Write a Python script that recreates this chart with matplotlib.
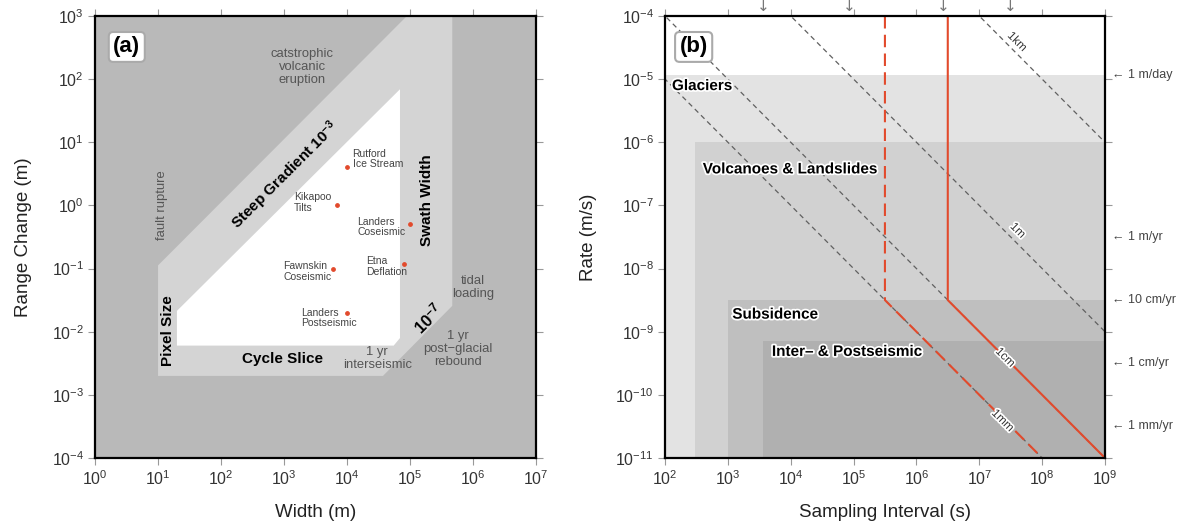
import numpy as np
import matplotlib
matplotlib.use("Agg")
import matplotlib.pyplot as plt
import matplotlib.patheffects as pe
from matplotlib.transforms import blended_transform_factory

plt.rcParams['font.family'] = ['Liberation Sans', 'DejaVu Sans']
plt.rcParams['mathtext.fontset'] = 'custom'
plt.rcParams['mathtext.rm'] = 'Liberation Sans'
plt.rcParams['mathtext.it'] = 'Liberation Sans:italic'
plt.rcParams['mathtext.bf'] = 'Liberation Sans:bold'

# ---------------- panel (a) data (log10 of width / range change) -------------
band_logx = [1.0, 1.0, 4.95, 5.67, 5.67, 4.57]
band_logy = [-2.70, -0.95, 3.0, 3.0, -1.59, -2.70]
white_logx = [1.30, 1.30, 4.84, 4.84, 4.74]
white_logy = [-2.22, -1.67, 1.84, -2.10, -2.22]

event_names = ["Rutford\nIce Stream", "Kikapoo\nTilts", "Landers\nCoseismic",
               "Fawnskin\nCoseismic", "Etna\nDeflation", "Landers\nPostseismic"]
event_width = [1.0e4, 7.0e3, 1.0e5, 6.0e3, 8.0e4, 1.0e4]
event_range = [4.0, 1.0, 0.5, 0.10, 0.12, 0.02]

# ---------------- panel (b) data --------------------------------------------
class_names = ["Glaciers", "Volcanoes & Landslides", "Subsidence", "Inter\u2013 & Postseismic"]
class_tmin = [1e2, 3e2, 1e3, 3.6e3]
class_rate_top = [1.157e-5, 1e-6, 3.17e-9, 7e-10]
class_colors = ['#e3e3e3', '#d1d1d1', '#bfbfbf', '#b0b0b0']

dist_labels = ['1km', '1m', '1cm', '1mm']
dist_m = [1e3, 1.0, 1e-2, 1e-3]

rate_labels = ['1 m/day', '1 m/yr', '10 cm/yr', '1 cm/yr', '1 mm/yr']
rate_values = [1.157e-5, 3.17e-8, 3.17e-9, 3.17e-10, 3.17e-11]

time_marks = [3600, 86400, 2.63e6, 3.156e7]   # hour, day, month, year

red_dashed_T = [3.15e5, 3.15e5, 1e8]
red_dashed_rate = [1e-4, 3.17e-9, 1e-11]
red_solid_T = [3.15e6, 3.15e6, 1e9]
red_solid_rate = [1e-4, 3.17e-9, 1e-11]

dark = '#b9b9b9'
light = '#d4d4d4'
red = '#e24a2c'
txtgray = '#555555'

fig = plt.figure(figsize=(11.91, 5.23), dpi=100)
ax1 = fig.add_axes([0.0798, 0.1243, 0.3703, 0.8451])
ax2 = fig.add_axes([0.5584, 0.1243, 0.3694, 0.8451])


def style_axes(ax):
    ax.set_xscale('log')
    ax.set_yscale('log')
    ax.minorticks_off()
    for s in ax.spines.values():
        s.set_linewidth(1.6)
        s.set_color('black')
        s.set_zorder(10)
    ax.tick_params(which='major', direction='out', length=5, width=0.8, color='#999999',
                   labelsize=11.5, labelcolor='#333333', top=True, right=True, pad=3)


# ---------------- panel (a) -------------------------------------------------
style_axes(ax1)
ax1.set_facecolor(dark)
ax1.fill(10 ** np.array(band_logx), 10 ** np.array(band_logy), color=light, lw=0)
ax1.fill(10 ** np.array(white_logx), 10 ** np.array(white_logy), color='white', lw=0)
ax1.set_xlim(1, 1e7)
ax1.set_ylim(1e-4, 1e3)
ax1.set_xticks(10.0 ** np.arange(0, 8))
ax1.set_yticks(10.0 ** np.arange(-4, 4))
ax1.set_xlabel('Width (m)', fontsize=13.5, color='#222222', labelpad=12)
ax1.set_ylabel('Range Change (m)', fontsize=13.5, color='#222222', labelpad=14)

ax1.scatter(event_width, event_range, s=6, color=red, zorder=5)
offsets = [(4, 6), (-31, 2), (-38, -2), (-36, -2), (-27, -2), (-33, -4)]
for name, x, y, off in zip(event_names, event_width, event_range, offsets):
    ax1.annotate(name, (x, y), xytext=off, textcoords='offset points',
                 fontsize=7.5, color='#444444', ha='left', va='center', linespacing=1.05)

ax1.text(10 ** 3.02, 10 ** 0.48, r'Steep Gradient $\mathbf{10^{-3}}$', rotation=45,
         fontsize=11, fontweight='bold', ha='center', va='center', rotation_mode='anchor')
ax1.text(10 ** 5.27, 10 ** 0.08, 'Swath Width', rotation=90, fontsize=11,
         fontweight='bold', ha='center', va='center')
ax1.text(10 ** 1.16, 10 ** -1.98, 'Pixel Size', rotation=90, fontsize=11,
         fontweight='bold', ha='center', va='center')
ax1.text(10 ** 2.98, 10 ** -2.44, 'Cycle Slice', fontsize=11,
         fontweight='bold', ha='center', va='center')
ax1.text(10 ** 5.29, 10 ** -1.79, r'$\mathbf{10^{-7}}$', rotation=45, fontsize=12,
         ha='center', va='center', rotation_mode='anchor')
ax1.text(10 ** 3.29, 10 ** 2.19, 'catstrophic\nvolcanic\neruption', fontsize=9.4,
         color=txtgray, ha='center', va='center', linespacing=1.1)
ax1.text(10 ** 1.06, 10 ** 0.0, 'fault rupture', rotation=90, fontsize=9.4,
         color=txtgray, ha='center', va='center')
ax1.text(10 ** 6.0, 10 ** -1.30, 'tidal\nloading', fontsize=9.4,
         color=txtgray, ha='center', va='center', linespacing=1.1)
ax1.text(10 ** 5.76, 10 ** -2.27, '1 yr\npost\u2212glacial\nrebound', fontsize=9.4,
         color=txtgray, ha='center', va='center', linespacing=1.1)
ax1.text(10 ** 4.48, 10 ** -2.43, '1 yr\ninterseismic', fontsize=9.4,
         color=txtgray, ha='center', va='center', linespacing=1.1)
ax1.text(0.072, 0.93, '(a)', transform=ax1.transAxes, fontsize=16, fontweight='bold',
         ha='center', va='center',
         bbox=dict(boxstyle='round,pad=0.2', fc='white', ec='#aaaaaa', lw=1.5))

# ---------------- panel (b) -------------------------------------------------
style_axes(ax2)
ax2.set_facecolor('white')
for tmin, top, c in zip(class_tmin, class_rate_top, class_colors):
    ax2.fill_between([tmin, 1e9], [1e-11, 1e-11], [top, top], color=c, lw=0)
ax2.set_xlim(1e2, 1e9)
ax2.set_ylim(1e-11, 1e-4)
ax2.set_xticks(10.0 ** np.arange(2, 10))
ax2.set_yticks(10.0 ** np.arange(-11, -3))
ax2.set_xlabel('Sampling Interval (s)', fontsize=13.5, color='#222222', labelpad=12)
ax2.set_ylabel('Rate (m/s)', fontsize=13.5, color='#222222', labelpad=13)

T = np.array([1e1, 1e10])
for d in dist_m:
    ax2.plot(T, d / T, color='#606060', lw=0.9, ls=(0, (4, 3)), zorder=3)

ax2.plot(red_dashed_T, red_dashed_rate, color=red, lw=1.5, ls=(0, (6, 3)), zorder=4)
ax2.plot(red_solid_T, red_solid_rate, color=red, lw=1.5, zorder=4)

halo = [pe.withStroke(linewidth=2.5, foreground='white')]
label_pos = [(10 ** 7.6, 10 ** -4.41), (10 ** 7.61, 10 ** -7.40),
             (10 ** 7.41, 10 ** -9.41), (10 ** 7.37, 10 ** -10.41)]
for lab, (x, y) in zip(dist_labels, label_pos):
    ax2.text(x, y, lab, rotation=-45, fontsize=8.5, color='#333333', ha='center',
             va='center', rotation_mode='anchor', path_effects=halo, zorder=6)

class_label_pos = [(10 ** 2.11, 10 ** -5.11), (10 ** 2.60, 10 ** -6.43),
                   (10 ** 3.07, 10 ** -8.73), (10 ** 3.70, 10 ** -9.32)]
for name, (x, y) in zip(class_names, class_label_pos):
    ax2.text(x, y, name, fontsize=11, fontweight='bold', ha='left', va='center',
             path_effects=halo, zorder=6)

tr_right = blended_transform_factory(ax2.transAxes, ax2.transData)
for lab, r in zip(rate_labels, rate_values):
    ax2.text(1.015, r, '\u2190 ' + lab, transform=tr_right, fontsize=9, color='#444444',
             ha='left', va='center', clip_on=False)

tr_top = blended_transform_factory(ax2.transData, ax2.transAxes)
for t in time_marks:
    ax2.text(t, 1.004, '\u2193', transform=tr_top, fontsize=11, color='#777777',
             ha='center', va='bottom', clip_on=False, family=['DejaVu Sans'])

ax2.text(0.065, 0.93, '(b)', transform=ax2.transAxes, fontsize=16, fontweight='bold',
         ha='center', va='center',
         bbox=dict(boxstyle='round,pad=0.2', fc='white', ec='#aaaaaa', lw=1.5))

fig.savefig('out.png', dpi=100)
